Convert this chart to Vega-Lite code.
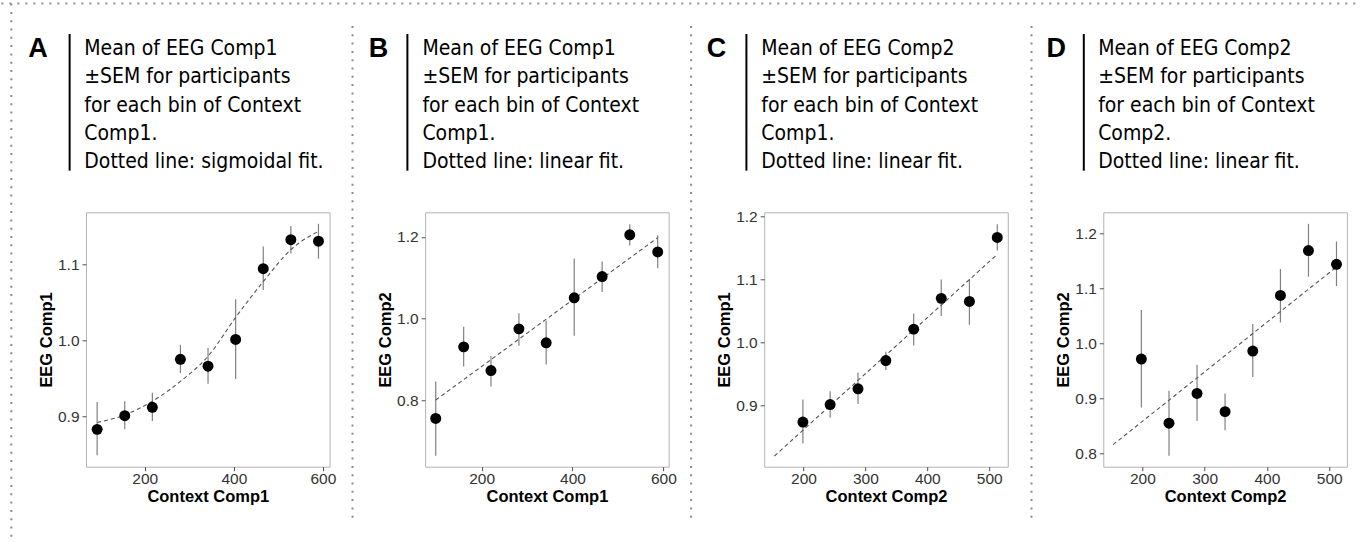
{
  "$schema": "https://vega.github.io/schema/vega-lite/v6.json",
  "background": "white",
  "padding": {"left": 0, "top": 2.6, "right": 0, "bottom": 0},
  "autosize": {"type": "pad"},
  "columns": 4,
  "bounds": "flush",
  "spacing": {"row": 8.7, "column": 95.1},
  "datasets": {
    "A_pts": [
      {"x": 93, "y": 0.883, "lo": 0.849, "hi": 0.919},
      {"x": 155, "y": 0.901, "lo": 0.883, "hi": 0.920},
      {"x": 217, "y": 0.912, "lo": 0.894, "hi": 0.931},
      {"x": 280, "y": 0.975, "lo": 0.957, "hi": 0.994},
      {"x": 342, "y": 0.966, "lo": 0.943, "hi": 0.990},
      {"x": 404, "y": 1.001, "lo": 0.949, "hi": 1.054},
      {"x": 466, "y": 1.094, "lo": 1.066, "hi": 1.123},
      {"x": 528, "y": 1.132, "lo": 1.114, "hi": 1.150},
      {"x": 590, "y": 1.130, "lo": 1.107, "hi": 1.153}
    ],
    "A_fit": [
      {"x": 93, "y": 0.892}, {"x": 155, "y": 0.902}, {"x": 217, "y": 0.920},
      {"x": 280, "y": 0.946}, {"x": 342, "y": 0.979}, {"x": 404, "y": 1.030},
      {"x": 466, "y": 1.077}, {"x": 528, "y": 1.119}, {"x": 590, "y": 1.143}
    ],
    "B_pts": [
      {"x": 98.9, "y": 0.756, "lo": 0.665, "hi": 0.846},
      {"x": 160.4, "y": 0.931, "lo": 0.883, "hi": 0.980},
      {"x": 220.5, "y": 0.873, "lo": 0.834, "hi": 0.909},
      {"x": 282, "y": 0.975, "lo": 0.934, "hi": 1.013},
      {"x": 342, "y": 0.941, "lo": 0.888, "hi": 0.995},
      {"x": 403.7, "y": 1.051, "lo": 0.958, "hi": 1.147},
      {"x": 465.2, "y": 1.103, "lo": 1.065, "hi": 1.140},
      {"x": 526, "y": 1.205, "lo": 1.179, "hi": 1.231},
      {"x": 587.5, "y": 1.163, "lo": 1.123, "hi": 1.204}
    ],
    "B_fit": [{"x": 98.9, "y": 0.801}, {"x": 587.5, "y": 1.198}],
    "C_pts": [
      {"x": 199, "y": 0.873, "lo": 0.839, "hi": 0.909},
      {"x": 243, "y": 0.901, "lo": 0.880, "hi": 0.922},
      {"x": 288, "y": 0.926, "lo": 0.902, "hi": 0.952},
      {"x": 333, "y": 0.971, "lo": 0.956, "hi": 0.985},
      {"x": 378, "y": 1.021, "lo": 0.995, "hi": 1.046},
      {"x": 422.5, "y": 1.070, "lo": 1.042, "hi": 1.100},
      {"x": 468, "y": 1.065, "lo": 1.028, "hi": 1.101},
      {"x": 513, "y": 1.167, "lo": 1.146, "hi": 1.188}
    ],
    "C_fit": [{"x": 153, "y": 0.819}, {"x": 513, "y": 1.140}],
    "D_pts": [
      {"x": 198.4, "y": 0.9715, "lo": 0.8836, "hi": 1.0606},
      {"x": 242.8, "y": 0.855, "lo": 0.796, "hi": 0.914},
      {"x": 287.8, "y": 0.909, "lo": 0.859, "hi": 0.961},
      {"x": 332.8, "y": 0.876, "lo": 0.842, "hi": 0.909},
      {"x": 377.3, "y": 0.986, "lo": 0.939, "hi": 1.035},
      {"x": 421.7, "y": 1.087, "lo": 1.038, "hi": 1.135},
      {"x": 466.7, "y": 1.1685, "lo": 1.121, "hi": 1.217},
      {"x": 511.7, "y": 1.1436, "lo": 1.104, "hi": 1.185}
    ],
    "D_fit": [{"x": 153, "y": 0.816}, {"x": 512, "y": 1.139}]
  },
  "concat": [
    {
      "width": 243.6, "height": 200, "view": {"stroke": null},
      "layer": [
        {"data": {"values": [{"part": "top border"}]},
         "mark": {"type": "rule", "color": "#8c8c8c", "strokeWidth": 2, "strokeDash": [2, 6], "strokeCap": "butt"},
         "encoding": {
           "x": {"datum": -0.3477, "type": "quantitative", "scale": {"domain": [0, 1], "nice": false, "zero": false}, "axis": null},
           "x2": {"datum": 5.227},
           "y": {"datum": 1, "type": "quantitative", "scale": {"domain": [0, 1], "nice": false, "zero": false}, "axis": null}}},
        {"data": {"values": [{"part": "left border"}]},
         "mark": {"type": "rule", "color": "#8c8c8c", "strokeWidth": 2, "strokeDash": [2, 6.3], "strokeCap": "butt"},
         "encoding": {
           "x": {"datum": -0.3067, "type": "quantitative", "scale": {"domain": [0, 1], "nice": false, "zero": false}, "axis": null},
           "y": {"datum": 1, "type": "quantitative", "scale": {"domain": [0, 1], "nice": false, "zero": false}, "axis": null},
           "y2": {"datum": -1.687}}},
        {"data": {"values": [{"part": "bar"}]},
         "mark": {"type": "rule", "color": "#000000", "strokeWidth": 2},
         "encoding": {
           "x": {"datum": -0.0673, "type": "quantitative", "scale": {"domain": [0, 1], "nice": false, "zero": false}, "axis": null},
           "y": {"datum": 0.848, "type": "quantitative", "scale": {"domain": [0, 1], "nice": false, "zero": false}, "axis": null},
           "y2": {"datum": 0.1645}}},
        {"data": {"values": [{"label": "A"}]},
         "mark": {"type": "text", "align": "left", "baseline": "alphabetic", "font": "Liberation Sans", "fontWeight": "bold", "fontSize": 27, "color": "#000000"},
         "encoding": {
           "x": {"datum": -0.2369, "type": "quantitative", "scale": {"domain": [0, 1], "nice": false, "zero": false}, "axis": null},
           "y": {"datum": 0.7345, "type": "quantitative", "scale": {"domain": [0, 1], "nice": false, "zero": false}, "axis": null},
           "text": {"field": "label", "type": "nominal"}}},
        {"data": {"values": [{"label": "Mean of EEG Comp1\n±SEM for participants\nfor each bin of Context\nComp1.\nDotted line: sigmoidal fit."}]},
         "mark": {"type": "text", "align": "left", "baseline": "alphabetic", "font": "DejaVu Sans Condensed", "fontSize": 21, "lineHeight": 28.3, "lineBreak": "\n", "color": "#000000"},
         "encoding": {
           "x": {"datum": -0.007, "type": "quantitative", "scale": {"domain": [0, 1], "nice": false, "zero": false}, "axis": null},
           "y": {"datum": 0.743, "type": "quantitative", "scale": {"domain": [0, 1], "nice": false, "zero": false}, "axis": null},
           "text": {"field": "label", "type": "nominal"}}}
      ]
    },
    {
      "width": 243.6, "height": 200, "view": {"stroke": null},
      "layer": [
        {"data": {"values": [{"part": "separator"}]},
         "mark": {"type": "rule", "color": "#8c8c8c", "strokeWidth": 2, "strokeDash": [2, 6.3], "strokeCap": "butt"},
         "encoding": {
           "x": {"datum": -0.298, "type": "quantitative", "scale": {"domain": [0, 1], "nice": false, "zero": false}, "axis": null},
           "y": {"datum": 0.888, "type": "quantitative", "scale": {"domain": [0, 1], "nice": false, "zero": false}, "axis": null},
           "y2": {"datum": -1.582}}},
        {"data": {"values": [{"part": "bar"}]},
         "mark": {"type": "rule", "color": "#000000", "strokeWidth": 2},
         "encoding": {
           "x": {"datum": -0.0727, "type": "quantitative", "scale": {"domain": [0, 1], "nice": false, "zero": false}, "axis": null},
           "y": {"datum": 0.848, "type": "quantitative", "scale": {"domain": [0, 1], "nice": false, "zero": false}, "axis": null},
           "y2": {"datum": 0.1645}}},
        {"data": {"values": [{"label": "B"}]},
         "mark": {"type": "text", "align": "left", "baseline": "alphabetic", "font": "Liberation Sans", "fontWeight": "bold", "fontSize": 27, "color": "#000000"},
         "encoding": {
           "x": {"datum": -0.2315, "type": "quantitative", "scale": {"domain": [0, 1], "nice": false, "zero": false}, "axis": null},
           "y": {"datum": 0.7345, "type": "quantitative", "scale": {"domain": [0, 1], "nice": false, "zero": false}, "axis": null},
           "text": {"field": "label", "type": "nominal"}}},
        {"data": {"values": [{"label": "Mean of EEG Comp1\n±SEM for participants\nfor each bin of Context\nComp1.\nDotted line: linear fit."}]},
         "mark": {"type": "text", "align": "left", "baseline": "alphabetic", "font": "DejaVu Sans Condensed", "fontSize": 21, "lineHeight": 28.3, "lineBreak": "\n", "color": "#000000"},
         "encoding": {
           "x": {"datum": -0.011, "type": "quantitative", "scale": {"domain": [0, 1], "nice": false, "zero": false}, "axis": null},
           "y": {"datum": 0.743, "type": "quantitative", "scale": {"domain": [0, 1], "nice": false, "zero": false}, "axis": null},
           "text": {"field": "label", "type": "nominal"}}}
      ]
    },
    {
      "width": 243.6, "height": 200, "view": {"stroke": null},
      "layer": [
        {"data": {"values": [{"part": "separator"}]},
         "mark": {"type": "rule", "color": "#8c8c8c", "strokeWidth": 2, "strokeDash": [2, 6.3], "strokeCap": "butt"},
         "encoding": {
           "x": {"datum": -0.300, "type": "quantitative", "scale": {"domain": [0, 1], "nice": false, "zero": false}, "axis": null},
           "y": {"datum": 0.888, "type": "quantitative", "scale": {"domain": [0, 1], "nice": false, "zero": false}, "axis": null},
           "y2": {"datum": -1.582}}},
        {"data": {"values": [{"part": "bar"}]},
         "mark": {"type": "rule", "color": "#000000", "strokeWidth": 2},
         "encoding": {
           "x": {"datum": -0.073, "type": "quantitative", "scale": {"domain": [0, 1], "nice": false, "zero": false}, "axis": null},
           "y": {"datum": 0.848, "type": "quantitative", "scale": {"domain": [0, 1], "nice": false, "zero": false}, "axis": null},
           "y2": {"datum": 0.1645}}},
        {"data": {"values": [{"label": "C"}]},
         "mark": {"type": "text", "align": "left", "baseline": "alphabetic", "font": "Liberation Sans", "fontWeight": "bold", "fontSize": 27, "color": "#000000"},
         "encoding": {
           "x": {"datum": -0.236, "type": "quantitative", "scale": {"domain": [0, 1], "nice": false, "zero": false}, "axis": null},
           "y": {"datum": 0.7345, "type": "quantitative", "scale": {"domain": [0, 1], "nice": false, "zero": false}, "axis": null},
           "text": {"field": "label", "type": "nominal"}}},
        {"data": {"values": [{"label": "Mean of EEG Comp2\n±SEM for participants\nfor each bin of Context\nComp1.\nDotted line: linear fit."}]},
         "mark": {"type": "text", "align": "left", "baseline": "alphabetic", "font": "DejaVu Sans Condensed", "fontSize": 21, "lineHeight": 28.3, "lineBreak": "\n", "color": "#000000"},
         "encoding": {
           "x": {"datum": -0.012, "type": "quantitative", "scale": {"domain": [0, 1], "nice": false, "zero": false}, "axis": null},
           "y": {"datum": 0.743, "type": "quantitative", "scale": {"domain": [0, 1], "nice": false, "zero": false}, "axis": null},
           "text": {"field": "label", "type": "nominal"}}}
      ]
    },
    {
      "width": 243.6, "height": 200, "view": {"stroke": null},
      "layer": [
        {"data": {"values": [{"part": "separator"}]},
         "mark": {"type": "rule", "color": "#8c8c8c", "strokeWidth": 2, "strokeDash": [2, 6.3], "strokeCap": "butt"},
         "encoding": {
           "x": {"datum": -0.2947, "type": "quantitative", "scale": {"domain": [0, 1], "nice": false, "zero": false}, "axis": null},
           "y": {"datum": 0.888, "type": "quantitative", "scale": {"domain": [0, 1], "nice": false, "zero": false}, "axis": null},
           "y2": {"datum": -1.582}}},
        {"data": {"values": [{"part": "bar"}]},
         "mark": {"type": "rule", "color": "#000000", "strokeWidth": 2},
         "encoding": {
           "x": {"datum": -0.080, "type": "quantitative", "scale": {"domain": [0, 1], "nice": false, "zero": false}, "axis": null},
           "y": {"datum": 0.848, "type": "quantitative", "scale": {"domain": [0, 1], "nice": false, "zero": false}, "axis": null},
           "y2": {"datum": 0.1645}}},
        {"data": {"values": [{"label": "D"}]},
         "mark": {"type": "text", "align": "left", "baseline": "alphabetic", "font": "Liberation Sans", "fontWeight": "bold", "fontSize": 27, "color": "#000000"},
         "encoding": {
           "x": {"datum": -0.233, "type": "quantitative", "scale": {"domain": [0, 1], "nice": false, "zero": false}, "axis": null},
           "y": {"datum": 0.7345, "type": "quantitative", "scale": {"domain": [0, 1], "nice": false, "zero": false}, "axis": null},
           "text": {"field": "label", "type": "nominal"}}},
        {"data": {"values": [{"label": "Mean of EEG Comp2\n±SEM for participants\nfor each bin of Context\nComp2.\nDotted line: linear fit."}]},
         "mark": {"type": "text", "align": "left", "baseline": "alphabetic", "font": "DejaVu Sans Condensed", "fontSize": 21, "lineHeight": 28.3, "lineBreak": "\n", "color": "#000000"},
         "encoding": {
           "x": {"datum": -0.021, "type": "quantitative", "scale": {"domain": [0, 1], "nice": false, "zero": false}, "axis": null},
           "y": {"datum": 0.743, "type": "quantitative", "scale": {"domain": [0, 1], "nice": false, "zero": false}, "axis": null},
           "text": {"field": "label", "type": "nominal"}}}
      ]
    },
    {
      "width": 243.6, "height": 254.4,
      "encoding": {
        "x": {"field": "x", "type": "quantitative", "title": "Context Comp1", "scale": {"domain": [68, 615], "nice": false, "zero": false}, "axis": {"values": [200, 400, 600]}},
        "y": {"field": "y", "type": "quantitative", "title": "EEG Comp1", "scale": {"domain": [0.834, 1.168], "nice": false, "zero": false}, "axis": {"values": [0.9, 1.0, 1.1], "format": ".1f"}}
      },
      "layer": [
        {"data": {"name": "A_pts"}, "mark": {"type": "rule", "color": "#808080", "strokeWidth": 1.2},
         "encoding": {"y": {"field": "lo", "type": "quantitative", "title": "EEG Comp1", "scale": {"domain": [0.834, 1.168], "nice": false, "zero": false}, "axis": {"values": [0.9, 1.0, 1.1], "format": ".1f"}}, "y2": {"field": "hi"}}},
        {"data": {"name": "A_fit"}, "mark": {"type": "line", "color": "#555555", "strokeDash": [4, 3], "strokeWidth": 1.1, "interpolate": "monotone"}},
        {"data": {"name": "A_pts"}, "mark": {"type": "circle", "size": 120, "color": "#000000", "opacity": 1}}
      ]
    },
    {
      "width": 243.6, "height": 254.4,
      "encoding": {
        "x": {"field": "x", "type": "quantitative", "title": "Context Comp1", "scale": {"domain": [75.5, 611.7], "nice": false, "zero": false}, "axis": {"values": [200, 400, 600]}},
        "y": {"field": "y", "type": "quantitative", "title": "EEG Comp2", "scale": {"domain": [0.638, 1.26], "nice": false, "zero": false}, "axis": {"values": [0.8, 1.0, 1.2], "format": ".1f"}}
      },
      "layer": [
        {"data": {"name": "B_pts"}, "mark": {"type": "rule", "color": "#808080", "strokeWidth": 1.2},
         "encoding": {"y": {"field": "lo", "type": "quantitative", "title": "EEG Comp2", "scale": {"domain": [0.638, 1.26], "nice": false, "zero": false}, "axis": {"values": [0.8, 1.0, 1.2], "format": ".1f"}}, "y2": {"field": "hi"}}},
        {"data": {"name": "B_fit"}, "mark": {"type": "line", "color": "#555555", "strokeDash": [4, 3], "strokeWidth": 1.1}},
        {"data": {"name": "B_pts"}, "mark": {"type": "circle", "size": 120, "color": "#000000", "opacity": 1}}
      ]
    },
    {
      "width": 243.6, "height": 254.4,
      "encoding": {
        "x": {"field": "x", "type": "quantitative", "title": "Context Comp2", "scale": {"domain": [136.5, 530], "nice": false, "zero": false}, "axis": {"values": [200, 300, 400, 500]}},
        "y": {"field": "y", "type": "quantitative", "title": "EEG Comp1", "scale": {"domain": [0.802, 1.207], "nice": false, "zero": false}, "axis": {"values": [0.9, 1.0, 1.1, 1.2], "format": ".1f"}}
      },
      "layer": [
        {"data": {"name": "C_pts"}, "mark": {"type": "rule", "color": "#808080", "strokeWidth": 1.2},
         "encoding": {"y": {"field": "lo", "type": "quantitative", "title": "EEG Comp1", "scale": {"domain": [0.802, 1.207], "nice": false, "zero": false}, "axis": {"values": [0.9, 1.0, 1.1, 1.2], "format": ".1f"}}, "y2": {"field": "hi"}}},
        {"data": {"name": "C_fit"}, "mark": {"type": "line", "color": "#555555", "strokeDash": [4, 3], "strokeWidth": 1.1}},
        {"data": {"name": "C_pts"}, "mark": {"type": "circle", "size": 120, "color": "#000000", "opacity": 1}}
      ]
    },
    {
      "width": 243.6, "height": 254.4,
      "encoding": {
        "x": {"field": "x", "type": "quantitative", "title": "Context Comp2", "scale": {"domain": [137.3, 528.4], "nice": false, "zero": false}, "axis": {"values": [200, 300, 400, 500]}},
        "y": {"field": "y", "type": "quantitative", "title": "EEG Comp2", "scale": {"domain": [0.776, 1.238], "nice": false, "zero": false}, "axis": {"values": [0.8, 0.9, 1.0, 1.1, 1.2], "format": ".1f"}}
      },
      "layer": [
        {"data": {"name": "D_pts"}, "mark": {"type": "rule", "color": "#808080", "strokeWidth": 1.2},
         "encoding": {"y": {"field": "lo", "type": "quantitative", "title": "EEG Comp2", "scale": {"domain": [0.776, 1.238], "nice": false, "zero": false}, "axis": {"values": [0.8, 0.9, 1.0, 1.1, 1.2], "format": ".1f"}}, "y2": {"field": "hi"}}},
        {"data": {"name": "D_fit"}, "mark": {"type": "line", "color": "#555555", "strokeDash": [4, 3], "strokeWidth": 1.1}},
        {"data": {"name": "D_pts"}, "mark": {"type": "circle", "size": 120, "color": "#000000", "opacity": 1}}
      ]
    }
  ],
  "config": {
    "view": {"stroke": "#b3b3b3", "strokeWidth": 1},
    "axis": {
      "domain": false, "grid": false, "ticks": true, "tickColor": "#4d4d4d", "tickSize": 4, "tickWidth": 1,
      "labelFont": "Liberation Sans", "labelFontSize": 15.5, "labelColor": "#333333", "labelFlush": false,
      "titleFont": "Liberation Sans", "titleFontSize": 16.5, "titleFontWeight": "bold", "titleColor": "#000000"
    },
    "axisX": {"labelPadding": 1, "titlePadding": 1},
    "axisY": {"labelPadding": 3, "titlePadding": 3}
  }
}
